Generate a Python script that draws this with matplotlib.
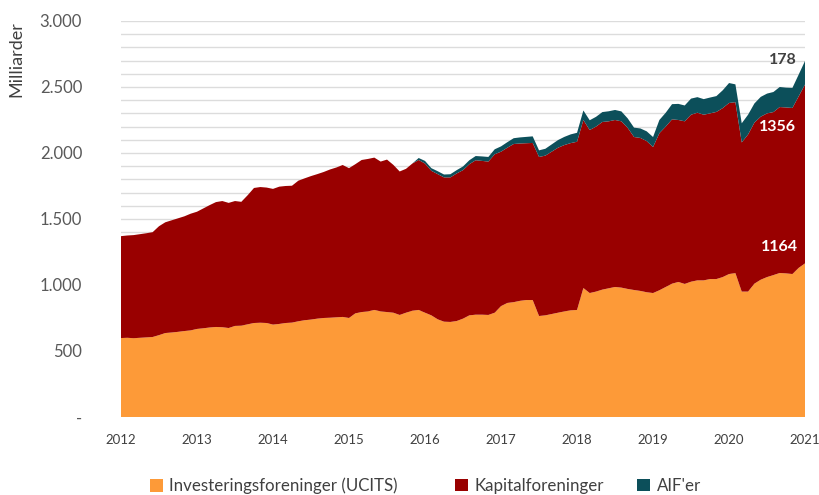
import numpy as np
from matplotlib import pyplot as plt
from matplotlib.patches import Patch
from matplotlib.ticker import FuncFormatter, MultipleLocator

plt.rcParams["font.family"] = ["Lato", "DejaVu Sans"]

# monthly values, Jan 2012 .. Jan 2021 (mia. kr.)
start_year = 2012
ucits = [
    598, 600, 597, 600, 603, 606, 620, 636, 640, 645, 651, 656,
    667, 672, 678, 682, 680, 674, 690, 692, 702, 712, 714, 712,
    700, 705, 712, 715, 725, 733, 738, 745, 750, 752, 755, 758,
    750, 785, 795, 800, 811, 800, 795, 790, 773, 790, 805, 811,
    790, 770, 740, 722, 720, 727, 745, 770, 775, 775, 773, 790,
    840, 864, 870, 880, 886, 886, 765, 770, 780, 790, 800, 808,
    811, 977, 939, 950, 965, 975, 985, 980, 970, 962, 955, 945,
    939, 960, 985, 1010, 1023, 1008, 1025, 1035, 1035, 1045, 1045, 1060,
    1083, 1090, 950, 950, 1010, 1040, 1060, 1075, 1091, 1088, 1083, 1130,
    1164,
]
kapital = [
    772, 775, 781, 785, 789, 794, 825, 839, 850, 860, 869, 884,
    888, 908, 927, 946, 956, 948, 946, 938, 978, 1023, 1028, 1026,
    1028, 1040, 1038, 1037, 1065, 1075, 1087, 1095, 1106, 1123, 1135, 1151,
    1135, 1130, 1152, 1155, 1154, 1135, 1155, 1120, 1087, 1090, 1115, 1136,
    1130, 1095, 1100, 1093, 1095, 1118, 1125, 1145, 1170, 1165, 1162, 1200,
    1170, 1176, 1198, 1192, 1188, 1190, 1205, 1210, 1230, 1250, 1260, 1267,
    1274, 1273, 1235, 1250, 1270, 1265, 1265, 1260, 1220, 1159, 1159, 1145,
    1106, 1190, 1215, 1245, 1227, 1232, 1265, 1270, 1255, 1255, 1266, 1280,
    1296, 1295, 1130, 1190, 1220, 1235, 1240, 1235, 1257, 1257, 1258, 1300,
    1356,
]
aif = [
    0, 0, 0, 0, 0, 0, 0, 0, 0, 0, 0, 0,
    0, 0, 0, 0, 0, 0, 0, 0, 0, 0, 0, 0,
    0, 0, 0, 0, 0, 0, 0, 0, 0, 0, 0, 0,
    0, 0, 0, 0, 0, 0, 0, 0, 0, 0, 0, 15,
    20, 20, 22, 22, 24, 25, 28, 30, 32, 34, 35, 38,
    40, 42, 44, 46, 48, 50, 50, 52, 55, 58, 62, 66,
    68, 72, 74, 74, 75, 76, 76, 75, 72, 71, 72, 74,
    76, 100, 105, 115, 122, 120, 122, 118, 118, 120, 120, 135,
    151, 135, 145, 150, 145, 150, 150, 152, 152, 150, 152, 165,
    178,
]
labels = ["Investeringsforeninger (UCITS)", "Kapitalforeninger", "AIF'er"]
colors = ["#FD9A38", "#990000", "#0C4F5A"]
year_ticks = list(range(2012, 2022))

x = start_year + np.arange(len(ucits)) / 12

fig = plt.figure(figsize=(8.19, 4.95), dpi=100)
ax = fig.add_axes([0.1477, 0.1576, 0.8353, 0.8])

ax.stackplot(x, ucits, kapital, aif, colors=colors, linewidth=0, zorder=2)

ax.set_xlim(2012, 2021)
ax.set_ylim(0, 3000)
ax.set_xticks(year_ticks)
ax.yaxis.set_major_locator(MultipleLocator(500))
ax.yaxis.set_minor_locator(MultipleLocator(100))
ax.yaxis.set_major_formatter(
    FuncFormatter(lambda v, p: "-" if v == 0 else f"{int(v):,}".replace(",", "."))
)
ax.grid(axis="y", which="both", color="#dcdcdc", linewidth=1, zorder=0)
ax.set_axisbelow(True)
for s in ax.spines.values():
    s.set_visible(False)
ax.tick_params(axis="y", which="both", length=0, pad=28, labelsize=12,
               labelcolor="#595959")
ax.tick_params(axis="x", length=0, pad=12, labelsize=9.5, labelcolor="#404040")
ax.set_ylabel("Milliarder", loc="top", fontsize=13, color="#404040", labelpad=11)

# end-of-series values
ax.text(2020.71, 2705, f"{aif[-1]}", fontsize=11.5, fontweight="bold",
        color="#404040", ha="center", va="center")
ax.text(2020.64, 2195, f"{kapital[-1]}", fontsize=11.5, fontweight="bold",
        color="white", ha="center", va="center")
ax.text(2020.67, 1290, f"{ucits[-1]}", fontsize=11.5, fontweight="bold",
        color="white", ha="center", va="center")

# legend entries placed one by one, like the original
legend_x = [150, 455, 637]
for lbl, c, lx in zip(labels, colors, legend_x):
    fig.legend([Patch(facecolor=c, edgecolor="none")], [lbl],
               loc="center left", bbox_to_anchor=(lx / 819, 0.018),
               frameon=False, fontsize=12.2, handlelength=0.75,
               handleheight=0.75, handletextpad=0.4, borderpad=0,
               borderaxespad=0, labelcolor="#404040")

fig.savefig("out.png", dpi=100)
